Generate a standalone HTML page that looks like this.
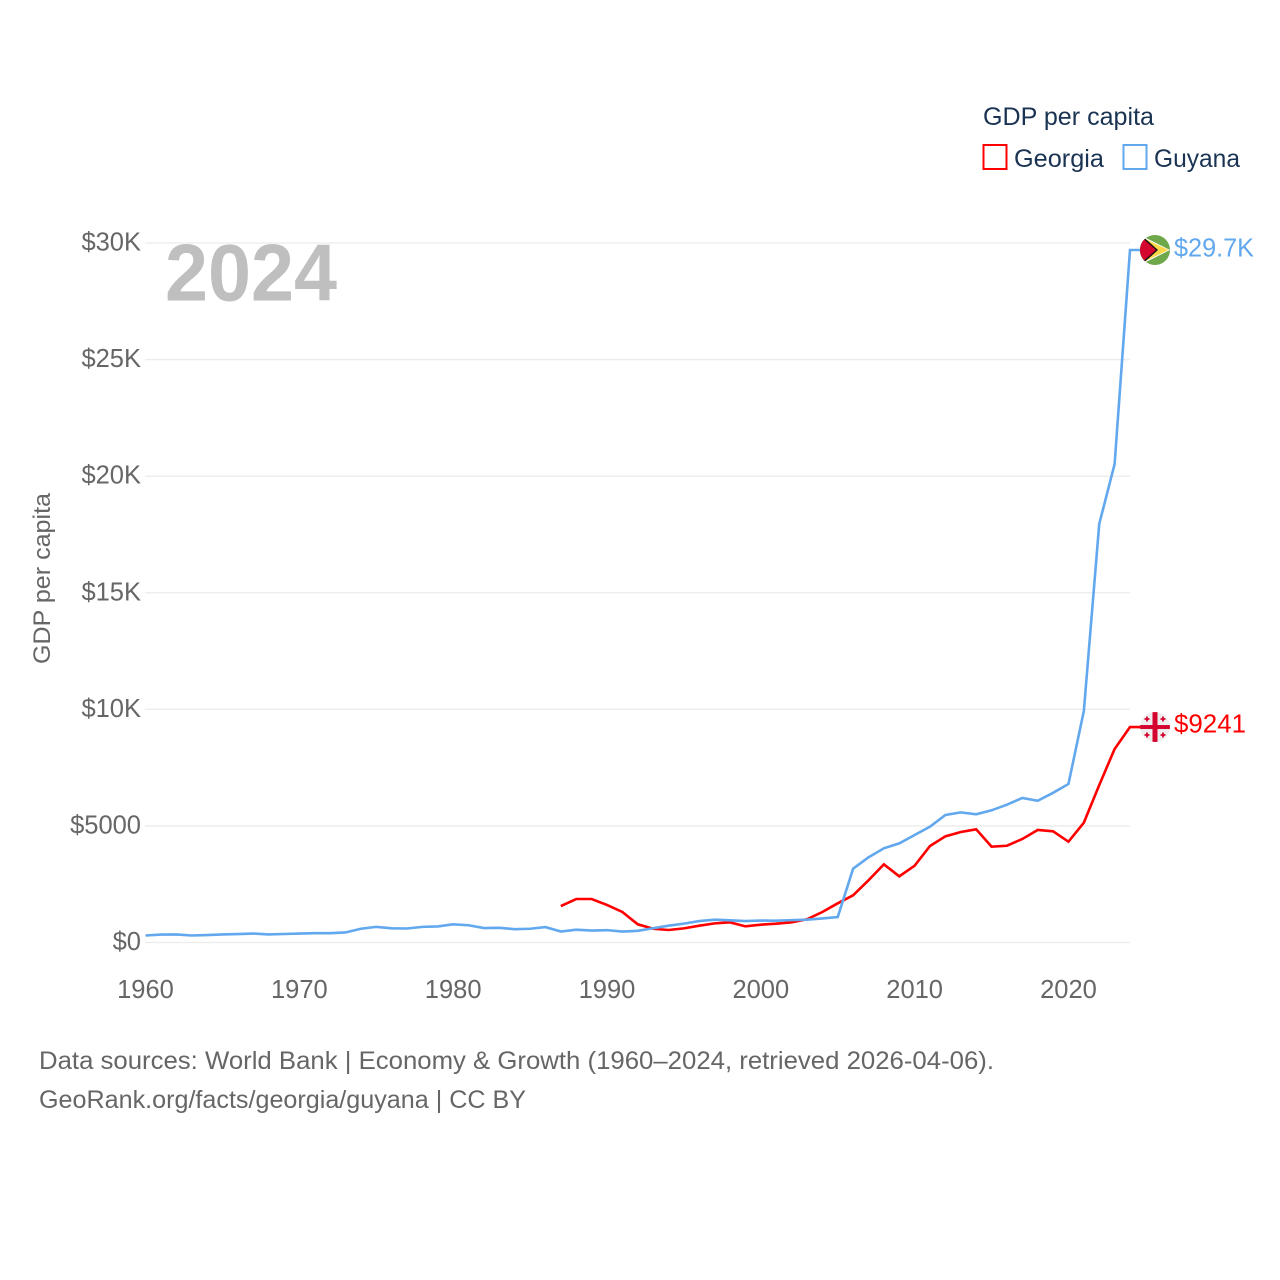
<!DOCTYPE html>
<html lang="en">
<head>
<meta charset="utf-8">
<title>GDP per capita: Georgia and Guyana</title>
<style>
html,body{margin:0;padding:0;background:#fff;width:1280px;height:1280px;overflow:hidden}
svg{display:block}
text{font-family:"Liberation Sans",sans-serif}
</style>
</head>
<body>
<svg id="chart" width="1280" height="1280" viewBox="0 0 1280 1280" xmlns="http://www.w3.org/2000/svg">
  <defs>
    <clipPath id="flag-clip"><circle cx="0" cy="0" r="15"></circle></clipPath>
  </defs>
  <rect width="1280" height="1280" fill="#ffffff"></rect>

  <g id="grid"></g>
  <g id="y-ticks"></g>
  <g id="x-ticks"></g>

  <text x="165" y="300.500" font-size="81" font-weight="700" fill="#bfbfbf" textLength="172" lengthAdjust="spacingAndGlyphs">2024</text>
  <text transform="translate(50,664) rotate(-90)" font-size="24.500" fill="#666666" textLength="171" lengthAdjust="spacingAndGlyphs">GDP per capita</text>

  <g id="series"></g>

  <g id="flag-guyana">
    <g clip-path="url(#flag-clip)">
      <rect x="-15" y="-15" width="30" height="30" fill="#6fa84a"></rect>
      <polygon points="-15,-15 15,0 -15,15" fill="#ffffff"></polygon>
      <polygon points="-15,-13.500 13.500,0 -15,13.500" fill="#fcd74a"></polygon>
      <polygon points="-15,-16 3,0 -15,16" fill="#111111"></polygon>
      <polygon points="-15,-14 1,0 -15,14" fill="#d4062f"></polygon>
    </g>
  </g>
  <g id="flag-georgia">
    <g clip-path="url(#flag-clip)">
      <rect x="-15" y="-15" width="30" height="30" fill="#eeeeee"></rect>
      <rect x="-2.500" y="-15" width="5" height="30" fill="#d4062f"></rect>
      <rect x="-15" y="-2" width="30" height="4" fill="#d4062f"></rect>
      <path d="M-10.500-8h5M-8-10.500v5M5.500-8h5M8-10.500v5M-10.500 8h5M-8 5.500v5M5.500 8h5M8 5.500v5" stroke="#d4062f" stroke-width="1.800" fill="none"></path>
    </g>
  </g>
  <text id="label-guyana" x="1174" font-size="25.500" fill="#62a8ee" textLength="80" lengthAdjust="spacingAndGlyphs">$29.7K</text>
  <text id="label-georgia" x="1174" font-size="25.500" fill="#ff0000" textLength="72" lengthAdjust="spacingAndGlyphs">$9241</text>

  <g>
    <text x="983" y="125" font-size="25" fill="#1a3353" textLength="171" lengthAdjust="spacingAndGlyphs">GDP per capita</text>
    <g>
      <rect x="983.500" y="145" width="23" height="24" fill="#ffffff" stroke="#ff0000" stroke-width="2"></rect>
      <text x="1014" y="167" font-size="25" fill="#1a3353" textLength="90" lengthAdjust="spacingAndGlyphs">Georgia</text>
    </g>
    <g>
      <rect x="1123.500" y="145" width="23" height="24" fill="#ffffff" stroke="#62a8ee" stroke-width="2"></rect>
      <text x="1154" y="167" font-size="25" fill="#1a3353" textLength="86" lengthAdjust="spacingAndGlyphs">Guyana</text>
    </g>
  </g>

  <text x="39" y="1069" font-size="25" fill="#666666" textLength="955" lengthAdjust="spacingAndGlyphs">Data sources: World Bank | Economy &amp; Growth (1960–2024, retrieved 2026-04-06).</text>
  <text x="39" y="1108" font-size="25" fill="#666666" textLength="487" lengthAdjust="spacingAndGlyphs">GeoRank.org/facts/georgia/guyana | CC BY</text>
</svg>

<script>
const guyanaStartYear = 1960;
const guyanaValues = [300,340,345,300,320,345,360,385,345,365,385,400,400,430,590,670,610,600,670,690,780,740,620,630,570,590,660,470,550,510,530,470,500,610,720,810,920,980,950,920,940,935,960,980,1030,1090,3165,3650,4040,4250,4610,4970,5470,5580,5500,5670,5910,6200,6080,6420,6800,9930,17950,20520,29700];
const georgiaStartYear = 1987;
const georgiaValues = [1565,1865,1865,1610,1310,780,590,536,606,720,820,865,693,765,807,865,995,1308,1680,2024,2667,3353,2838,3295,4140,4554,4740,4855,4110,4150,4440,4825,4770,4325,5140,6750,8300,9241];
const yTickValues = [0,5000,10000,15000,20000,25000,30000];
const yTickLabels = ["$0","$5000","$10K","$15K","$20K","$25K","$30K"];
const xTickValues = [1960,1970,1980,1990,2000,2010,2020];
const xTickLabels = ["1960","1970","1980","1990","2000","2010","2020"];

const SVG_NS = "http://www.w3.org/2000/svg";
function xScale(year){ return 145.5 + (year - 1960) * (1130 - 145.5) / 64; }
function yScale(value){ return 942.5 - value * 699.5 / 30000; }

const gridLayer = document.getElementById("grid");
const yLayer = document.getElementById("y-ticks");
const xLayer = document.getElementById("x-ticks");
const seriesLayer = document.getElementById("series");

yTickValues.forEach(function(v, i){
  const line = document.createElementNS(SVG_NS, "line");
  
  
  line.setAttribute("x1", 145);
  line.setAttribute("x2", 1130);
  line.setAttribute("y1", yScale(v));
  line.setAttribute("y2", yScale(v));
  line.setAttribute("stroke", "#ececec");
  line.setAttribute("stroke-width", "1.300");
  gridLayer.appendChild(line);

  const label = document.createElementNS(SVG_NS, "text");
  
  
  label.setAttribute("x", 141);
  label.setAttribute("y", yScale(v) + 7.500);
  label.setAttribute("text-anchor", "end");
  label.setAttribute("font-size", "25.500");
  label.setAttribute("fill", "#666666");
  label.textContent = yTickLabels[i];
  yLayer.appendChild(label);
});

xTickValues.forEach(function(v, i){
  const label = document.createElementNS(SVG_NS, "text");
  
  
  label.setAttribute("x", xScale(v));
  label.setAttribute("y", 998);
  label.setAttribute("text-anchor", "middle");
  label.setAttribute("font-size", "25.500");
  label.setAttribute("fill", "#666666");
  label.textContent = xTickLabels[i];
  xLayer.appendChild(label);
});

function seriesPoints(startYear, values){
  const pts = values.map(function(v, i){
    return xScale(startYear + i).toFixed(2) + "," + yScale(v).toFixed(2);
  });
  const last = values[values.length - 1];
  pts.push((xScale(startYear + values.length - 1) + 11).toFixed(2) + "," + yScale(last).toFixed(2));
  return pts.join(" ");
}

const georgiaLine = document.createElementNS(SVG_NS, "polyline");


georgiaLine.setAttribute("points", seriesPoints(georgiaStartYear, georgiaValues));
georgiaLine.setAttribute("fill", "none");
georgiaLine.setAttribute("stroke", "#ff0000");
georgiaLine.setAttribute("stroke-width", "2.600");
seriesLayer.appendChild(georgiaLine);

const guyanaLine = document.createElementNS(SVG_NS, "polyline");


guyanaLine.setAttribute("points", seriesPoints(guyanaStartYear, guyanaValues));
guyanaLine.setAttribute("fill", "none");
guyanaLine.setAttribute("stroke", "#62a8ee");
guyanaLine.setAttribute("stroke-width", "2.600");
seriesLayer.appendChild(guyanaLine);

const guyanaEndY = yScale(guyanaValues[guyanaValues.length - 1]);
const georgiaEndY = yScale(georgiaValues[georgiaValues.length - 1]);
document.getElementById("flag-guyana").setAttribute("transform", "translate(1155," + guyanaEndY + ")");
document.getElementById("flag-georgia").setAttribute("transform", "translate(1155," + georgiaEndY + ")");
document.getElementById("label-guyana").setAttribute("y", guyanaEndY + 6.500);
document.getElementById("label-georgia").setAttribute("y", georgiaEndY + 5.500);
</script>
</body>
</html>
